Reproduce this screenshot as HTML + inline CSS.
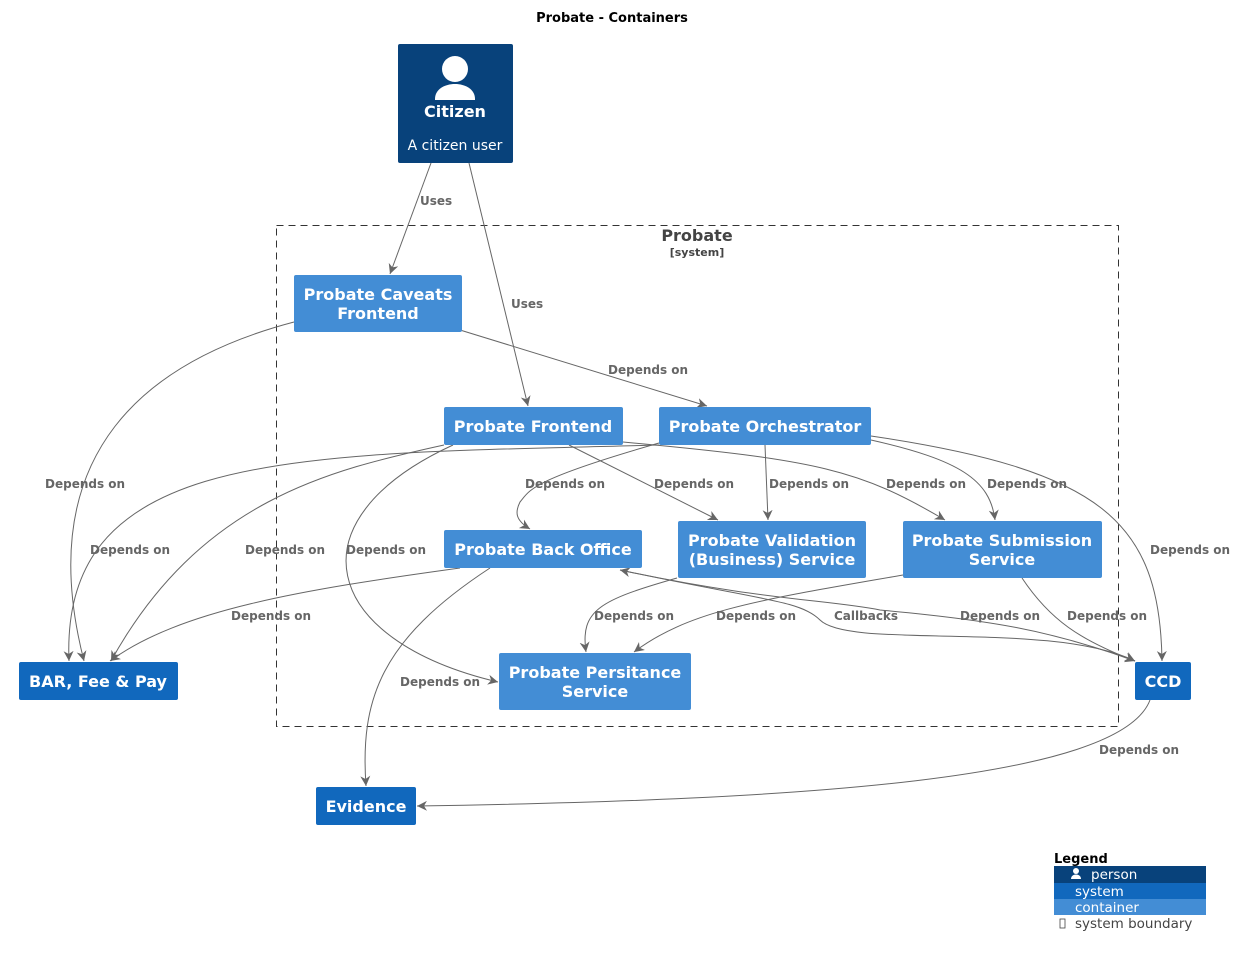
<!DOCTYPE html>
<html><head><meta charset="utf-8"><style>
body{margin:0;background:#fff}
svg{display:block;font-family:"DejaVu Sans","Liberation Sans",sans-serif}
.n{font-weight:bold;font-size:16px;fill:#fff;text-anchor:middle}
.l{font-weight:bold;font-size:12px;fill:#666}
.e{fill:none;stroke:#666;stroke-width:1}
</style></head><body>
<svg width="1235" height="957" viewBox="0 0 1235 957">
<defs><marker id="a" markerWidth="12" markerHeight="12" refX="10" refY="5" orient="auto" markerUnits="userSpaceOnUse"><path d="M0,0 L10,5 L0,10 L3,5 z" fill="#666"/></marker></defs>
<text x="612" y="22" text-anchor="middle" font-weight="bold" font-size="13">Probate - Containers</text>
<rect x="276.5" y="225.5" width="842" height="501" fill="none" stroke="#333" stroke-dasharray="7,5"/>
<text x="697" y="241" text-anchor="middle" font-weight="bold" font-size="16" fill="#444">Probate</text>
<text x="697" y="256" text-anchor="middle" font-weight="bold" font-size="11" fill="#444">[system]</text>

<g class="e" marker-end="url(#a)">
<path d="M431,163 L390,274"/>
<path d="M469,163 L528,406"/>
<path d="M460,330 L707,406"/>
<path d="M294,322 C150,360 30,450 84,661"/>
<path d="M659,445 C300,455 60,445 69,661"/>
<path d="M444,445 C330,470 200,500 111,661"/>
<path d="M453,445 C290,520 320,640 498,682"/>
<path d="M569,445 L718,520"/>
<path d="M623,442 C820,460 860,470 945,520"/>
<path d="M659,443 C530,480 530,490 520,502 C515,512 515,520 530,529"/>
<path d="M765,445 L768,520"/>
<path d="M871,440 C960,460 990,480 995,520"/>
<path d="M871,436 C1100,470 1160,520 1162,661"/>
<path d="M677,578 C600,600 580,610 586,652"/>
<path d="M903,575 C760,600 690,610 634,652"/>
<path d="M1022,578 C1050,620 1080,640 1135,661"/>
<path d="M460,568 C300,590 180,610 110,661"/>
<path d="M490,568 C380,640 360,700 366,786"/>
<path d="M1135,661 C1050,630 990,620 880,610 C830,600 760,600 620,570"/>
<path d="M620,570 C760,600 800,600 820,620 C850,650 1050,620 1135,661"/>
<path d="M1150,700 C1120,780 800,800 417,806"/>
</g>

<g class="l">
<text x="420" y="205">Uses</text>
<text x="511" y="308">Uses</text>
<text x="608" y="374">Depends on</text>
<text x="45" y="488">Depends on</text>
<text x="90" y="554">Depends on</text>
<text x="245" y="554">Depends on</text>
<text x="346" y="554">Depends on</text>
<text x="525" y="488">Depends on</text>
<text x="654" y="488">Depends on</text>
<text x="769" y="488">Depends on</text>
<text x="886" y="488">Depends on</text>
<text x="987" y="488">Depends on</text>
<text x="1150" y="554">Depends on</text>
<text x="231" y="620">Depends on</text>
<text x="594" y="620">Depends on</text>
<text x="716" y="620">Depends on</text>
<text x="834" y="620">Callbacks</text>
<text x="960" y="620">Depends on</text>
<text x="1067" y="620">Depends on</text>
<text x="400" y="686">Depends on</text>
<text x="1099" y="754">Depends on</text>
</g>

<rect x="398" y="44" width="115" height="119" rx="2" fill="#08427B"/>
<circle cx="455" cy="69" r="13" fill="#fff"/>
<path d="M435,99 C435,79 475,79 475,99 L475,100 L435,100 z" fill="#fff"/>
<text x="455" y="117" class="n">Citizen</text>
<text x="455" y="150" text-anchor="middle" font-size="14" fill="#fff">A citizen user</text>

<g fill="#438DD5">
<rect x="294" y="275" width="168" height="57" rx="2"/>
<rect x="444" y="407" width="179" height="38" rx="2"/>
<rect x="659" y="407" width="212" height="38" rx="2"/>
<rect x="444" y="530" width="198" height="38" rx="2"/>
<rect x="678" y="521" width="188" height="57" rx="2"/>
<rect x="903" y="521" width="199" height="57" rx="2"/>
<rect x="499" y="653" width="192" height="57" rx="2"/>
</g>
<g fill="#1168BD">
<rect x="19" y="662" width="159" height="38" rx="2"/>
<rect x="1135" y="662" width="56" height="38" rx="2"/>
<rect x="316" y="787" width="100" height="38" rx="2"/>
</g>
<text class="n" x="378" y="300">Probate Caveats</text><text class="n" x="378" y="319">Frontend</text>
<text class="n" x="533" y="432">Probate Frontend</text>
<text class="n" x="765" y="432">Probate Orchestrator</text>
<text class="n" x="543" y="555">Probate Back Office</text>
<text class="n" x="772" y="546">Probate Validation</text><text class="n" x="772" y="565">(Business) Service</text>
<text class="n" x="1002" y="546">Probate Submission</text><text class="n" x="1002" y="565">Service</text>
<text class="n" x="595" y="678">Probate Persitance</text><text class="n" x="595" y="697">Service</text>
<text class="n" x="98" y="687">BAR, Fee &amp; Pay</text>
<text class="n" x="1163" y="687">CCD</text>
<text class="n" x="366" y="812">Evidence</text>

<text x="1054" y="863" font-weight="bold" font-size="13">Legend</text>
<rect x="1054" y="866" width="152" height="17" fill="#08427B"/>
<rect x="1054" y="883" width="152" height="16" fill="#1168BD"/>
<rect x="1054" y="899" width="152" height="16" fill="#438DD5"/>
<circle cx="1076" cy="871" r="3" fill="#fff"/><path d="M1071,879 C1071,873 1081,873 1081,879 z" fill="#fff"/>
<text x="1091" y="879" font-size="13.5" fill="#fff">person</text>
<text x="1075" y="896" font-size="13.5" fill="#fff">system</text>
<text x="1075" y="912" font-size="13.5" fill="#fff">container</text>
<rect x="1060" y="919" width="5" height="9" fill="none" stroke="#444" stroke-width="0.8"/>
<text x="1075" y="928" font-size="13.5" fill="#444">system boundary</text>
</svg>
</body></html>
